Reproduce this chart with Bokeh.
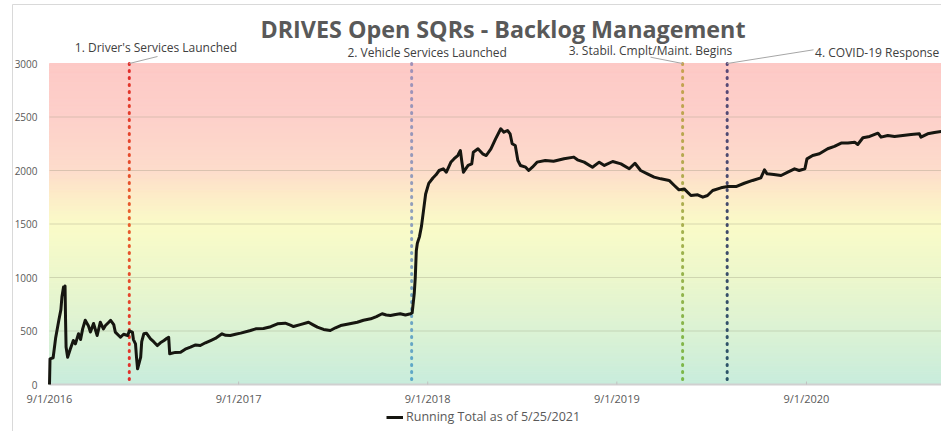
from datetime import datetime, timedelta
import numpy as np
import pandas as pd
from bokeh.plotting import figure
from bokeh.models import Range1d, Label, Arrow, Legend, LegendItem, ColumnDataSource
from bokeh.core.properties import value
from bokeh.embed import file_html
from bokeh.resources import INLINE

# ---------------- data ----------------
title_text = "DRIVES Open SQRs - Backlog Management"
series_name = "Running Total as of 5/25/2021"

dates = [
    "2016-09-01", "2016-09-02", "2016-09-08", "2016-09-13", "2016-09-19", "2016-09-23", "2016-09-25",
    "2016-09-28", "2016-09-30", "2016-10-01", "2016-10-02", "2016-10-03", "2016-10-06", "2016-10-11",
    "2016-10-17", "2016-10-21", "2016-10-27", "2016-10-31", "2016-11-04", "2016-11-09", "2016-11-15",
    "2016-11-19", "2016-11-25", "2016-12-02", "2016-12-08", "2016-12-14", "2016-12-18", "2016-12-24",
    "2016-12-28",
    "2017-01-03", "2017-01-06", "2017-01-16", "2017-01-22", "2017-01-30", "2017-02-02", "2017-02-08",
    "2017-02-10", "2017-02-14", "2017-02-16", "2017-02-18", "2017-02-24", "2017-02-26", "2017-03-02",
    "2017-03-07", "2017-03-15", "2017-03-21", "2017-03-28", "2017-04-03", "2017-04-10", "2017-04-15",
    "2017-04-19", "2017-04-21", "2017-05-02", "2017-05-12", "2017-05-21", "2017-05-31", "2017-06-10",
    "2017-06-19", "2017-06-29", "2017-07-09", "2017-07-18", "2017-07-31", "2017-08-07", "2017-08-16",
    "2017-08-26", "2017-09-05", "2017-09-24", "2017-10-04", "2017-10-19", "2017-11-02", "2017-11-15",
    "2017-11-30", "2017-12-10", "2017-12-16", "2017-12-29",
    "2018-01-14", "2018-01-22", "2018-01-31", "2018-02-12", "2018-02-25", "2018-03-07", "2018-03-17",
    "2018-04-01", "2018-04-18", "2018-04-30", "2018-05-14", "2018-05-25", "2018-06-05", "2018-06-13",
    "2018-06-21", "2018-07-01", "2018-07-10", "2018-07-20", "2018-07-30", "2018-08-02", "2018-08-06",
    "2018-08-08", "2018-08-10", "2018-08-12", "2018-08-16", "2018-08-20", "2018-08-24", "2018-08-28",
    "2018-09-03", "2018-09-11", "2018-09-17", "2018-09-23", "2018-10-01", "2018-10-07", "2018-10-16",
    "2018-10-22", "2018-10-29", "2018-11-03", "2018-11-06", "2018-11-09", "2018-11-18", "2018-11-25",
    "2018-11-28", "2018-12-07", "2018-12-16", "2018-12-23",
    "2019-01-01", "2019-01-10", "2019-01-20", "2019-01-26", "2019-02-02", "2019-02-07", "2019-02-11",
    "2019-02-17", "2019-02-22", "2019-02-27", "2019-03-09", "2019-03-15", "2019-03-22", "2019-03-31",
    "2019-04-16", "2019-05-02", "2019-05-22", "2019-06-10", "2019-06-17", "2019-06-30", "2019-07-16",
    "2019-07-29", "2019-08-08", "2019-08-24", "2019-09-09", "2019-09-25", "2019-10-06", "2019-10-17",
    "2019-10-30", "2019-11-12", "2019-11-25", "2019-12-11", "2019-12-21", "2019-12-30",
    "2020-01-09", "2020-01-22", "2020-02-04", "2020-02-14", "2020-02-23", "2020-03-04", "2020-03-20",
    "2020-04-02", "2020-04-18", "2020-05-04", "2020-05-20", "2020-06-05", "2020-06-12", "2020-06-17",
    "2020-06-30", "2020-07-14", "2020-07-27", "2020-08-09", "2020-08-18", "2020-08-29", "2020-09-02",
    "2020-09-13", "2020-09-26", "2020-10-12", "2020-10-25", "2020-11-07", "2020-11-20", "2020-12-03",
    "2020-12-09", "2020-12-19",
    "2021-01-01", "2021-01-17", "2021-01-23", "2021-02-05", "2021-02-18", "2021-03-06", "2021-03-22",
    "2021-04-07", "2021-04-10", "2021-04-23", "2021-05-06", "2021-05-19", "2021-05-25",
]

running_total = [
    0, 240, 250, 440, 600, 700, 820, 910, 880,
    920, 600, 350, 255, 330, 411, 380, 475, 420,
    520, 600, 550, 490, 570,
    458, 582, 520, 551, 580, 600,
    560, 490, 442, 470, 458,
    500, 490, 420, 380, 250, 147, 255, 400,
    474, 480, 427, 400, 364,
    390, 411, 430, 442, 287,
    300, 302, 330, 349,
    370, 364, 390,
    411, 430, 474,
    460, 458, 470,
    480, 505,
    520, 523,
    540, 567, 573,
    555, 542, 560,
    582, 560, 536,
    515, 505,
    530, 551,
    565, 582, 600,
    614, 635,
    661, 650, 645,
    655, 661, 650, 661,
    670, 850, 1000, 1250, 1320, 1380, 1480, 1630, 1780,
    1880, 1930, 1960, 2000,
    2016, 1984, 2080, 2110, 2140,
    2187, 2078, 1984, 2047, 2062, 2171,
    2203, 2156, 2140,
    2203, 2296, 2390, 2358,
    2374, 2343, 2250, 2234, 2094, 2047,
    2031, 2000, 2031, 2078,
    2094,
    2087, 2109,
    2125, 2100, 2078,
    2031, 2078,
    2047, 2084,
    2062, 2016,
    2068, 2000, 1969,
    1938, 1922,
    1907, 1860, 1819,
    1828, 1766,
    1773, 1751, 1766,
    1813, 1838,
    1850, 1850,
    1881, 1907,
    1931, 2006, 1969, 1963,
    1953, 1984,
    2016, 2000, 2016,
    2109, 2140, 2156,
    2203, 2225,
    2256, 2256,
    2265, 2243, 2306,
    2318, 2349, 2312, 2327, 2318, 2327, 2337, 2343, 2312, 2343, 2355, 2365, 2360,
]

event_dates = ["2017-02-02", "2018-08-01", "2020-01-06", "2020-04-01"]
event_labels = ["1. Driver's Services Launched", "2. Vehicle Services Launched",
                "3. Stabil. Cmplt/Maint. Begins", "4. COVID-19 Response"]

x_tick_dates = ["2016-09-01", "2017-09-01", "2018-09-01", "2019-09-01", "2020-09-01"]
x_tick_labels = ["9/1/2016", "9/1/2017", "9/1/2018", "9/1/2019", "9/1/2020"]
y_ticks = [0, 500, 1000, 1500, 2000, 2500, 3000]
y_tick_labels = ["0", "500", "1000", "1500", "2000", "2500", "3000"]
y_max = 3000

# ---------------- layout helpers (screen-pixel positions of the reference) ----------------
EPOCH = datetime(1970, 1, 1)
X_START = datetime(2016, 9, 1)
W, H = 941, 431
PLOT_LEFT_PX, PLOT_RIGHT_PX, PLOT_TOP_PX, PLOT_BOTTOM_PX = 49, 941, 63, 384
PX_PER_DAY = 0.5181
PX_PER_UNIT = (PLOT_BOTTOM_PX - PLOT_TOP_PX) / y_max


def ms(dt):
    if isinstance(dt, str):
        dt = datetime.strptime(dt, "%Y-%m-%d")
    return (dt - EPOCH).total_seconds() * 1000.0


def xpx(px):
    return ms(X_START + timedelta(days=(px - PLOT_LEFT_PX) / PX_PER_DAY))


def ypx(py):
    return (PLOT_BOTTOM_PX - py) / PX_PER_UNIT


def hex2rgb(c):
    return tuple(int(c[i:i + 2], 16) for i in (1, 3, 5))


def lerp_color(stops_v, stops_c, v):
    rgb = [hex2rgb(c) for c in stops_c]
    for i in range(len(stops_v) - 1):
        if stops_v[i] <= v <= stops_v[i + 1]:
            t = (v - stops_v[i]) / (stops_v[i + 1] - stops_v[i])
            a, b = rgb[i], rgb[i + 1]
            return "#%02x%02x%02x" % tuple(int(round(a[k] + (b[k] - a[k]) * t)) for k in range(3))
    return stops_c[-1]


# ---------------- styles ----------------
FONT = "Open Sans"
TEXT_GREY = "#595959"
BG_V = [0, 500, 1000, 1500, 1800, 2000, 2500, 3000]
BG_C = ["#c8ecdc", "#dbf2d4", "#ecf7cc", "#fafbc8", "#fdeac8", "#fddccb", "#fdd0ca", "#fdc9c6"]
EVENT_STOPS = [
    ["#e02a2a", "#e8602c", "#e02a2a"],
    ["#a090b8", "#8fa0bc", "#5aa8c8"],
    ["#c8a050", "#a8b050", "#78b848"],
    ["#5a4878", "#404a6a", "#2a5468"],
]
LABEL_POS = [(155.5, 47), (426.7, 52), (650, 49.5), (876.7, 52)]
LEADERS = [(157, 56), None, (650, 56.7), (813, 49.3)]

x_lo, x_hi = ms(X_START), xpx(PLOT_RIGHT_PX)

# the frame covers the whole canvas so all texts are drawn through the plot's own scales
p = figure(width=W, height=H, x_axis_type="datetime", x_axis_location=None, y_axis_location=None,
           x_range=Range1d(xpx(0), xpx(W)), y_range=Range1d(ypx(H), ypx(0)),
           output_backend="svg", toolbar_location=None, title=None,
           min_border_left=0, min_border_right=0, min_border_top=0, min_border_bottom=0,
           outline_line_color=None, background_fill_color="white", border_fill_color="white")
p.xgrid.visible = False
p.ygrid.visible = False

# outer chart border (left and top)
p.segment(x0=[xpx(12), xpx(12)], x1=[xpx(12), xpx(W + 5)], y0=[ypx(4), ypx(4)],
          y1=[ypx(H + 5), ypx(4)], line_color="#d9d9d9", line_width=1)

# gradient background of the plot area
edges = np.arange(0, y_max + 1, 25)
bottoms, tops = edges[:-1], edges[1:]
bg_cols = [lerp_color(BG_V, BG_C, (b + t) / 2) for b, t in zip(bottoms, tops)]
r_bg = p.quad(left=x_lo, right=x_hi, bottom=bottoms, top=tops,
              fill_color=bg_cols, line_color=bg_cols, line_width=1)

# horizontal grid lines
grid_vals = y_ticks[1:-1]
p.segment(x0=[x_lo] * len(grid_vals), x1=[x_hi] * len(grid_vals),
          y0=grid_vals, y1=grid_vals, line_color="#8a8a70", line_alpha=0.3, line_width=1)

# y tick labels
p.text(x=[xpx(37)] * len(y_ticks), y=y_ticks, text=y_tick_labels, text_align="right",
       text_baseline="middle", text_font=value(FONT), text_font_size="10px",
       text_color=TEXT_GREY)

# x axis line + small ticks + labels
tick_ms = [ms(d) for d in x_tick_dates]
p.segment(x0=[x_lo], x1=[x_hi], y0=[0], y1=[0], line_color="#d0d0d0", line_width=2)
p.segment(x0=tick_ms, x1=tick_ms, y0=[0] * len(tick_ms), y1=[3 / PX_PER_UNIT] * len(tick_ms),
          line_color="#c0c0c0", line_width=1)
p.text(x=tick_ms, y=[ypx(398)] * len(tick_ms), text=x_tick_labels, text_align="center",
       text_baseline="middle", text_font=value(FONT), text_font_size="11px",
       text_color=TEXT_GREY)

# event dotted lines (colour gradient top -> bottom)
piece = 21 / PX_PER_UNIT
for ev, stops in zip(event_dates, EVENT_STOPS):
    x = ms(ev)
    y0s, y1s, cols = [], [], []
    ytop = float(y_max)
    while ytop > 0:
        ybot = max(0.0, ytop - piece)
        y0s.append(ytop)
        y1s.append(ybot)
        cols.append(lerp_color([0, 1500, 3000], stops[::-1], (ytop + ybot) / 2))
        ytop = ybot
    p.segment(x0=[x] * len(y0s), y0=y0s, x1=[x] * len(y0s), y1=y1s,
              line_color=cols, line_width=3, line_dash="1 6", line_cap="round")

# main series
src = ColumnDataSource(dict(date=pd.to_datetime(dates), total=running_total))
r_line = p.line(x="date", y="total", source=src, line_color="#161610", line_width=3,
                line_join="round")

# title
p.add_layout(Label(x=xpx(502.5), y=ypx(28), text=title_text, text_align="center",
                   text_baseline="middle", text_font=FONT, text_font_style="bold",
                   text_font_size="23.3px", text_color=TEXT_GREY))

# event labels & leader lines
for lab, (lx, ly), lead, ev in zip(event_labels, LABEL_POS, LEADERS, event_dates):
    p.add_layout(Label(x=xpx(lx), y=ypx(ly), text=lab, text_align="center",
                       text_baseline="middle", text_font=FONT, text_font_size="12px",
                       text_color="#404040"))
    if lead is not None:
        p.add_layout(Arrow(end=None, x_start=xpx(lead[0]), y_start=ypx(lead[1]),
                           x_end=ms(ev), y_end=y_max, line_color="#a6a6a6", line_width=1))

# legend below the plot area
legend = Legend(items=[LegendItem(label=series_name, renderers=[r_line])],
                location=(386, H - 425), orientation="horizontal",
                background_fill_alpha=0, border_line_alpha=0, margin=0, padding=0,
                glyph_width=17, glyph_height=16, label_standoff=3,
                label_text_font=FONT, label_text_font_size="12.5px",
                label_text_color=TEXT_GREY)
p.add_layout(legend)

open("out.html", "w").write(file_html(p, INLINE))
